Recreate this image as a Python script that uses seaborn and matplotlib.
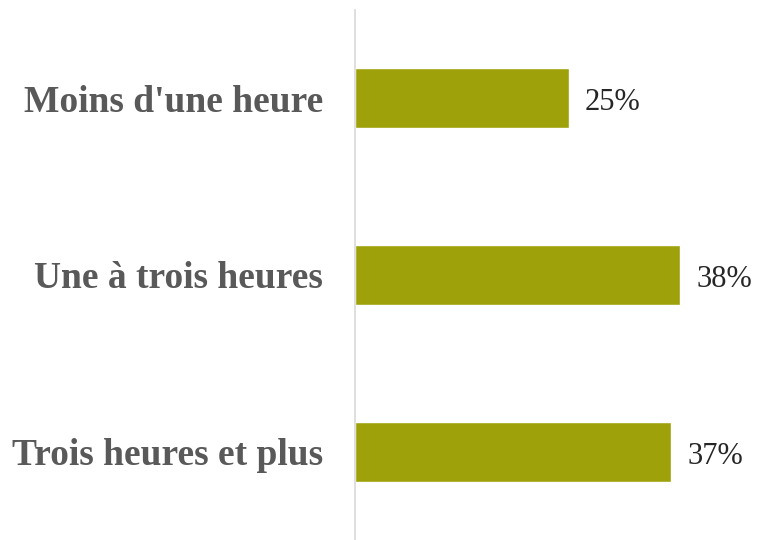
import matplotlib
matplotlib.use("Agg")
import matplotlib.pyplot as plt
import seaborn as sns
import pandas as pd

categories = ["Moins d'une heure", "Une à trois heures", "Trois heures et plus"]
values = [25, 38, 37]
value_labels = ["25%", "38%", "37%"]

sns.set_style("white")
plt.rcParams['font.family'] = ['Liberation Serif', 'DejaVu Serif']

df = pd.DataFrame({"cat": categories, "val": values})

fig = plt.figure(figsize=(7.57, 5.40), dpi=100)
ax = fig.add_axes([355/757, 0, 402/757, 530/540])
sns.barplot(data=df, x="val", y="cat", orient="h", color="#9EA10A",
            width=0.34, saturation=1, ax=ax)
ax.set_xlim(0, 47)
ax.set_ylim(2.5, -0.5)
ax.set_xlabel("")
ax.set_ylabel("")
ax.set_xticks([])
for s in ["top", "right", "bottom"]:
    ax.spines[s].set_visible(False)
ax.spines["left"].set_color("#D9D9D9")
ax.spines["left"].set_linewidth(1.2)
ax.tick_params(axis="y", length=0, pad=23)
for lbl in ax.get_yticklabels():
    lbl.set_fontsize(27)
    lbl.set_fontweight("bold")
    lbl.set_color("#595959")
for i, (v, t) in enumerate(zip(values, value_labels)):
    ax.text(v + 1.9, i + 0.025, t, va="center", ha="left", fontsize=22, color="#262626")

fig.savefig("out.png", dpi=100)
